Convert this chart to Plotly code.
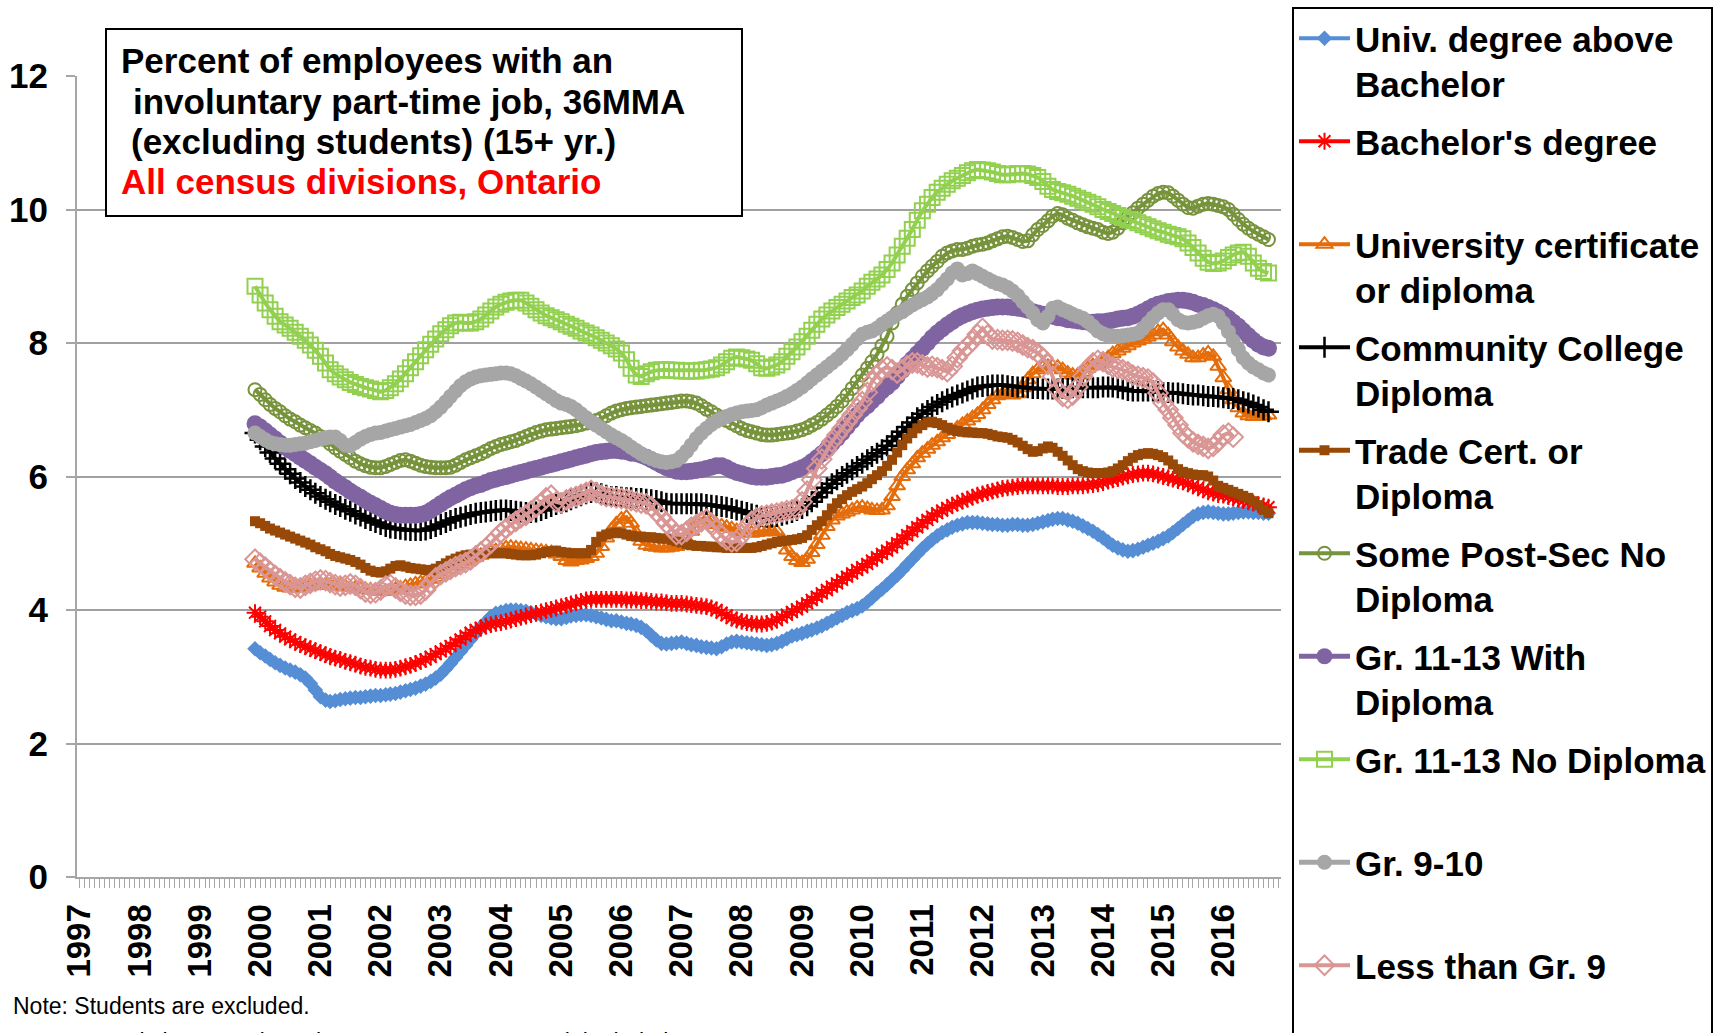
import pandas as pd
import plotly.graph_objects as go

# ---------------- data (36-month moving average, %) ----------------
start_month = "1999-12-01"

univ_above_bachelor = [3.42,
3.36,3.31,3.26,3.21,3.17,3.13,3.10,3.07,3.03,2.98,2.90,2.80,
2.70,2.65,2.63,2.64,2.66,2.67,2.68,2.69,2.69,2.70,2.71,2.72,
2.72,2.73,2.74,2.75,2.77,2.79,2.81,2.83,2.86,2.89,2.93,2.98,
3.04,3.12,3.20,3.29,3.38,3.47,3.56,3.65,3.74,3.82,3.90,3.95,
3.97,3.99,4.00,4.00,3.99,3.98,3.96,3.94,3.92,3.90,3.88,3.87,
3.87,3.89,3.91,3.92,3.93,3.93,3.92,3.90,3.88,3.86,3.84,3.84,
3.82,3.80,3.79,3.77,3.74,3.69,3.62,3.55,3.50,3.49,3.50,3.51,
3.52,3.50,3.48,3.47,3.45,3.44,3.43,3.42,3.45,3.49,3.52,3.53,
3.52,3.51,3.50,3.49,3.48,3.47,3.48,3.50,3.53,3.57,3.61,3.63,
3.65,3.68,3.70,3.73,3.76,3.80,3.84,3.88,3.92,3.96,3.99,4.02,
4.06,4.12,4.18,4.25,4.31,4.38,4.45,4.52,4.60,4.68,4.76,4.84,
4.92,4.99,5.05,5.11,5.16,5.20,5.24,5.27,5.29,5.31,5.31,5.31,
5.30,5.29,5.28,5.28,5.27,5.27,5.28,5.28,5.27,5.27,5.28,5.30,
5.32,5.34,5.36,5.37,5.37,5.35,5.33,5.30,5.26,5.22,5.18,5.13,
5.08,5.02,4.97,4.93,4.90,4.88,4.89,4.91,4.94,4.97,5.00,5.03,
5.07,5.11,5.16,5.22,5.28,5.34,5.40,5.44,5.46,5.47,5.46,5.45,
5.44,5.44,5.45,5.46,5.47,5.47,5.46,5.46,5.45,5.45]

bachelor = [3.96,
3.90,3.83,3.76,3.70,3.65,3.60,3.56,3.52,3.48,3.45,3.42,3.39,
3.36,3.33,3.30,3.28,3.26,3.23,3.21,3.19,3.16,3.14,3.13,3.11,
3.10,3.10,3.10,3.11,3.13,3.15,3.17,3.20,3.23,3.26,3.30,3.34,
3.38,3.42,3.46,3.51,3.56,3.61,3.66,3.70,3.73,3.76,3.78,3.80,
3.81,3.83,3.85,3.87,3.89,3.91,3.93,3.95,3.97,3.99,4.01,4.03,
4.05,4.07,4.09,4.11,4.13,4.15,4.16,4.16,4.16,4.16,4.16,4.16,
4.16,4.15,4.15,4.15,4.14,4.14,4.13,4.12,4.12,4.11,4.10,4.10,
4.10,4.09,4.08,4.07,4.06,4.05,4.03,4.00,3.96,3.92,3.88,3.85,
3.83,3.81,3.80,3.79,3.79,3.80,3.82,3.85,3.89,3.93,3.97,4.01,
4.05,4.10,4.15,4.20,4.25,4.30,4.35,4.40,4.45,4.50,4.55,4.60,
4.64,4.69,4.74,4.79,4.84,4.89,4.94,5.00,5.06,5.12,5.18,5.24,
5.30,5.35,5.40,5.45,5.49,5.53,5.57,5.60,5.63,5.66,5.69,5.72,
5.74,5.76,5.78,5.80,5.82,5.83,5.84,5.85,5.86,5.86,5.86,5.86,
5.86,5.86,5.86,5.85,5.85,5.85,5.86,5.86,5.86,5.87,5.88,5.89,
5.91,5.93,5.95,5.97,5.99,6.01,6.03,6.04,6.05,6.05,6.04,6.02,
6.00,5.98,5.96,5.94,5.92,5.89,5.86,5.83,5.80,5.77,5.75,5.73,
5.72,5.70,5.68,5.66,5.64,5.62,5.60,5.58,5.56,5.54]

univ_cert = [4.70,
4.63,4.55,4.48,4.42,4.37,4.34,4.33,4.33,4.34,4.35,4.36,4.37,
4.38,4.38,4.37,4.36,4.36,4.35,4.34,4.33,4.32,4.31,4.30,4.29,
4.28,4.28,4.29,4.31,4.33,4.35,4.37,4.39,4.41,4.43,4.46,4.49,
4.53,4.57,4.61,4.65,4.69,4.73,4.76,4.79,4.82,4.85,4.87,4.89,
4.91,4.93,4.94,4.93,4.92,4.91,4.90,4.89,4.88,4.87,4.86,4.84,
4.80,4.74,4.72,4.74,4.75,4.77,4.80,4.85,4.95,5.08,5.20,5.29,
5.36,5.39,5.30,5.15,5.03,4.97,4.95,4.94,4.93,4.93,4.94,4.95,
4.97,5.05,5.18,5.30,5.36,5.35,5.32,5.28,5.26,5.24,5.22,5.19,
5.17,5.16,5.15,5.16,5.17,5.18,5.19,5.17,5.05,4.90,4.80,4.74,
4.71,4.76,4.86,4.98,5.12,5.25,5.35,5.41,5.44,5.47,5.50,5.53,
5.54,5.52,5.50,5.49,5.50,5.56,5.70,5.86,6.00,6.10,6.19,6.28,
6.35,6.41,6.47,6.52,6.58,6.63,6.68,6.73,6.78,6.83,6.88,6.93,
7.00,7.08,7.15,7.21,7.23,7.23,7.22,7.24,7.33,7.45,7.54,7.60,
7.63,7.65,7.65,7.64,7.60,7.55,7.52,7.52,7.56,7.62,7.66,7.68,
7.72,7.78,7.84,7.88,7.92,7.96,8.00,8.03,8.06,8.09,8.12,8.17,
8.20,8.12,8.02,7.94,7.88,7.83,7.78,7.78,7.82,7.85,7.80,7.65,
7.48,7.30,7.15,7.03,6.95,6.91,6.90,6.90,6.91,6.92]

community_college = [6.65,
6.55,6.45,6.36,6.27,6.19,6.11,6.04,5.97,5.91,5.85,5.80,5.75,
5.70,5.66,5.62,5.58,5.55,5.51,5.48,5.44,5.41,5.37,5.34,5.31,
5.28,5.25,5.23,5.22,5.21,5.20,5.19,5.19,5.19,5.20,5.22,5.25,
5.28,5.31,5.34,5.37,5.39,5.41,5.43,5.45,5.46,5.47,5.48,5.49,
5.50,5.50,5.49,5.48,5.47,5.46,5.46,5.47,5.49,5.52,5.55,5.58,
5.60,5.62,5.65,5.68,5.71,5.74,5.76,5.76,5.74,5.72,5.70,5.70,
5.69,5.68,5.68,5.67,5.67,5.66,5.65,5.64,5.62,5.60,5.59,5.59,
5.59,5.59,5.59,5.59,5.59,5.58,5.57,5.56,5.55,5.54,5.52,5.50,
5.48,5.46,5.44,5.42,5.40,5.39,5.39,5.40,5.42,5.44,5.46,5.49,
5.52,5.56,5.62,5.69,5.76,5.83,5.89,5.95,6.00,6.05,6.10,6.15,
6.20,6.25,6.30,6.35,6.40,6.46,6.53,6.60,6.67,6.74,6.81,6.88,
6.94,6.99,7.04,7.08,7.12,7.16,7.19,7.22,7.25,7.28,7.31,7.34,
7.35,7.36,7.37,7.37,7.37,7.36,7.35,7.34,7.34,7.33,7.32,7.32,
7.31,7.31,7.31,7.31,7.32,7.32,7.33,7.33,7.33,7.33,7.33,7.33,
7.34,7.34,7.34,7.33,7.31,7.29,7.28,7.28,7.28,7.28,7.28,7.27,
7.26,7.26,7.25,7.25,7.24,7.23,7.22,7.22,7.21,7.20,7.20,7.19,
7.18,7.17,7.17,7.15,7.12,7.10,7.07,7.04,7.00,6.97]

trade_cert = [5.33,
5.30,5.26,5.22,5.19,5.16,5.13,5.10,5.07,5.04,5.01,4.98,4.94,
4.91,4.88,4.84,4.81,4.79,4.77,4.75,4.72,4.68,4.63,4.59,4.57,
4.56,4.58,4.62,4.66,4.67,4.65,4.63,4.62,4.61,4.60,4.60,4.62,
4.66,4.70,4.74,4.77,4.80,4.82,4.83,4.84,4.84,4.85,4.85,4.85,
4.85,4.85,4.84,4.83,4.82,4.82,4.82,4.83,4.85,4.87,4.88,4.89,
4.87,4.86,4.85,4.85,4.85,4.85,4.90,5.02,5.10,5.13,5.15,5.16,
5.15,5.13,5.11,5.10,5.10,5.09,5.09,5.08,5.07,5.07,5.05,5.03,
5.01,4.99,4.97,4.96,4.96,4.95,4.95,4.94,4.94,4.93,4.93,4.93,
4.93,4.93,4.93,4.94,4.96,4.98,5.00,5.02,5.03,5.04,5.05,5.06,
5.08,5.12,5.20,5.27,5.33,5.42,5.52,5.60,5.66,5.72,5.77,5.81,
5.85,5.90,5.96,6.02,6.08,6.16,6.25,6.36,6.47,6.57,6.65,6.72,
6.77,6.81,6.82,6.80,6.77,6.73,6.70,6.68,6.67,6.66,6.66,6.65,
6.65,6.64,6.62,6.60,6.59,6.58,6.55,6.51,6.46,6.41,6.37,6.38,
6.42,6.45,6.43,6.37,6.31,6.24,6.17,6.11,6.08,6.06,6.05,6.05,
6.05,6.06,6.08,6.12,6.17,6.23,6.28,6.32,6.34,6.35,6.34,6.32,
6.29,6.24,6.18,6.11,6.07,6.05,6.03,6.02,6.02,6.00,5.94,5.86,
5.83,5.80,5.77,5.74,5.71,5.68,5.63,5.57,5.50,5.45]

some_post_sec = [7.30,
7.23,7.15,7.08,7.02,6.97,6.91,6.86,6.82,6.77,6.73,6.69,6.65,
6.60,6.55,6.49,6.43,6.38,6.33,6.28,6.23,6.19,6.16,6.14,6.13,
6.13,6.15,6.18,6.21,6.24,6.25,6.23,6.20,6.17,6.15,6.14,6.13,
6.13,6.13,6.14,6.17,6.21,6.25,6.28,6.31,6.34,6.38,6.42,6.45,
6.48,6.50,6.52,6.54,6.57,6.60,6.63,6.66,6.68,6.70,6.71,6.72,
6.73,6.74,6.75,6.76,6.78,6.80,6.82,6.84,6.87,6.91,6.95,6.98,
7.00,7.02,7.03,7.04,7.05,7.06,7.07,7.08,7.09,7.10,7.11,7.12,
7.13,7.13,7.12,7.10,7.06,7.01,6.97,6.92,6.88,6.84,6.80,6.76,
6.72,6.69,6.67,6.65,6.63,6.62,6.62,6.63,6.64,6.65,6.66,6.68,
6.70,6.73,6.77,6.81,6.86,6.92,6.98,7.05,7.13,7.22,7.32,7.42,
7.52,7.62,7.72,7.83,7.96,8.10,8.30,8.45,8.58,8.70,8.80,8.90,
9.00,9.08,9.15,9.22,9.30,9.35,9.38,9.40,9.40,9.42,9.45,9.47,
9.48,9.50,9.53,9.56,9.59,9.60,9.58,9.55,9.52,9.53,9.62,9.70,
9.76,9.83,9.90,9.94,9.92,9.87,9.84,9.80,9.77,9.74,9.72,9.70,
9.66,9.64,9.66,9.72,9.80,9.88,9.95,10.02,10.08,10.14,10.20,10.24,
10.26,10.25,10.20,10.14,10.08,10.03,10.02,10.05,10.08,10.09,10.08,10.06,
10.04,10.00,9.93,9.85,9.78,9.72,9.67,9.63,9.59,9.55]

gr11_13_with_diploma = [6.79,
6.74,6.68,6.62,6.56,6.50,6.44,6.39,6.34,6.29,6.24,6.19,6.14,
6.09,6.04,5.99,5.93,5.88,5.83,5.78,5.73,5.69,5.64,5.60,5.56,
5.52,5.48,5.45,5.43,5.42,5.42,5.42,5.42,5.43,5.45,5.49,5.54,
5.59,5.64,5.68,5.72,5.76,5.80,5.83,5.86,5.88,5.91,5.94,5.96,
5.98,6.00,6.02,6.04,6.06,6.08,6.10,6.12,6.14,6.16,6.18,6.20,
6.22,6.24,6.26,6.28,6.30,6.32,6.34,6.36,6.37,6.38,6.39,6.39,
6.38,6.37,6.35,6.34,6.32,6.29,6.25,6.21,6.17,6.13,6.10,6.08,
6.07,6.07,6.08,6.09,6.10,6.12,6.14,6.16,6.16,6.13,6.09,6.06,
6.04,6.02,6.00,5.99,5.99,5.99,6.00,6.01,6.02,6.04,6.07,6.10,
6.13,6.17,6.22,6.28,6.34,6.41,6.49,6.57,6.65,6.74,6.83,6.92,
7.00,7.06,7.13,7.20,7.28,7.34,7.41,7.50,7.59,7.68,7.76,7.84,
7.92,8.00,8.08,8.15,8.21,8.27,8.32,8.37,8.41,8.44,8.47,8.49,
8.51,8.52,8.53,8.54,8.54,8.54,8.53,8.52,8.51,8.49,8.47,8.45,
8.43,8.41,8.40,8.38,8.37,8.35,8.34,8.33,8.32,8.31,8.31,8.32,
8.32,8.33,8.34,8.36,8.37,8.38,8.40,8.43,8.47,8.51,8.55,8.58,
8.60,8.62,8.63,8.64,8.64,8.63,8.61,8.58,8.56,8.53,8.50,8.46,
8.42,8.37,8.31,8.25,8.18,8.11,8.04,7.98,7.94,7.92]

gr11_13_no_diploma = [8.85,
8.72,8.60,8.50,8.40,8.32,8.27,8.22,8.16,8.10,8.04,7.97,7.89,
7.80,7.70,7.60,7.54,7.49,7.45,7.41,7.38,7.35,7.33,7.31,7.29,
7.27,7.29,7.33,7.39,7.46,7.54,7.63,7.72,7.81,7.90,7.98,8.06,
8.14,8.20,8.26,8.30,8.31,8.30,8.30,8.32,8.36,8.42,8.48,8.54,
8.58,8.61,8.63,8.64,8.64,8.60,8.55,8.50,8.45,8.41,8.38,8.35,
8.32,8.28,8.25,8.22,8.18,8.15,8.12,8.08,8.04,8.00,7.96,7.91,
7.85,7.75,7.62,7.52,7.50,7.54,7.57,7.59,7.60,7.60,7.59,7.59,
7.58,7.58,7.58,7.58,7.59,7.60,7.61,7.63,7.67,7.72,7.77,7.79,
7.78,7.76,7.74,7.69,7.63,7.62,7.64,7.67,7.72,7.80,7.87,7.94,
8.02,8.10,8.19,8.28,8.36,8.42,8.48,8.53,8.58,8.63,8.68,8.72,
8.78,8.85,8.91,8.96,9.02,9.10,9.20,9.32,9.45,9.57,9.70,9.84,
9.98,10.08,10.18,10.26,10.32,10.38,10.43,10.47,10.51,10.55,10.58,10.60,
10.59,10.58,10.56,10.54,10.52,10.52,10.53,10.54,10.54,10.53,10.51,10.48,
10.42,10.35,10.30,10.27,10.25,10.23,10.20,10.17,10.14,10.11,10.08,10.04,
10.00,9.97,9.94,9.91,9.88,9.85,9.83,9.80,9.77,9.74,9.71,9.68,
9.66,9.63,9.61,9.59,9.56,9.50,9.43,9.35,9.27,9.21,9.19,9.20,
9.23,9.28,9.32,9.35,9.36,9.30,9.20,9.12,9.07,9.05]

gr9_10 = [6.65,
6.60,6.55,6.51,6.49,6.48,6.47,6.47,6.48,6.49,6.50,6.52,6.54,
6.56,6.58,6.59,6.59,6.54,6.47,6.46,6.51,6.56,6.60,6.63,6.65,
6.66,6.68,6.70,6.72,6.74,6.76,6.78,6.81,6.84,6.87,6.91,6.97,
7.04,7.12,7.20,7.28,7.36,7.42,7.46,7.49,7.51,7.52,7.53,7.54,
7.55,7.55,7.54,7.51,7.47,7.43,7.39,7.34,7.29,7.24,7.19,7.14,
7.10,7.08,7.05,7.00,6.94,6.88,6.82,6.77,6.72,6.67,6.62,6.58,
6.54,6.49,6.44,6.39,6.34,6.30,6.27,6.24,6.22,6.21,6.22,6.24,
6.30,6.38,6.47,6.57,6.65,6.72,6.78,6.83,6.87,6.90,6.93,6.95,
6.97,6.98,6.99,7.00,7.03,7.07,7.10,7.13,7.16,7.20,7.24,7.29,
7.34,7.40,7.46,7.52,7.58,7.64,7.70,7.76,7.83,7.90,7.98,8.06,
8.13,8.16,8.18,8.22,8.28,8.33,8.38,8.43,8.47,8.52,8.57,8.61,
8.65,8.69,8.74,8.80,8.88,8.96,9.05,9.11,9.02,9.04,9.08,9.04,
9.00,8.96,8.92,8.89,8.87,8.83,8.78,8.71,8.62,8.54,8.45,8.35,
8.30,8.40,8.52,8.54,8.50,8.47,8.43,8.40,8.37,8.32,8.25,8.18,
8.14,8.11,8.10,8.10,8.11,8.12,8.13,8.15,8.22,8.30,8.38,8.45,
8.50,8.50,8.43,8.35,8.31,8.30,8.31,8.33,8.37,8.41,8.43,8.40,
8.30,8.17,8.03,7.90,7.78,7.70,7.64,7.60,7.55,7.52]

less_than_gr9 = [4.76,
4.70,4.64,4.58,4.52,4.47,4.42,4.38,4.34,4.33,4.37,4.40,4.43,
4.45,4.44,4.41,4.38,4.36,4.37,4.39,4.37,4.32,4.27,4.25,4.26,
4.30,4.36,4.38,4.33,4.28,4.24,4.22,4.22,4.24,4.30,4.40,4.48,
4.53,4.57,4.61,4.65,4.68,4.71,4.75,4.81,4.87,4.93,5.00,5.08,
5.16,5.22,5.28,5.33,5.38,5.42,5.48,5.54,5.60,5.68,5.72,5.62,
5.60,5.65,5.68,5.70,5.73,5.76,5.79,5.76,5.72,5.70,5.69,5.68,
5.67,5.66,5.64,5.62,5.60,5.59,5.55,5.47,5.39,5.30,5.22,5.13,
5.13,5.18,5.24,5.28,5.32,5.36,5.30,5.20,5.11,5.05,5.02,5.03,
5.12,5.25,5.33,5.38,5.41,5.42,5.44,5.45,5.47,5.49,5.50,5.51,
5.62,5.78,5.95,6.12,6.26,6.40,6.52,6.62,6.72,6.82,6.92,7.02,
7.12,7.26,7.42,7.52,7.60,7.64,7.60,7.55,7.60,7.66,7.70,7.70,
7.67,7.64,7.65,7.63,7.60,7.57,7.65,7.78,7.88,7.95,8.03,8.13,
8.22,8.12,8.06,8.05,8.04,8.04,8.03,8.01,7.97,7.93,7.90,7.85,
7.78,7.68,7.50,7.30,7.20,7.17,7.22,7.34,7.50,7.62,7.70,7.74,
7.72,7.68,7.64,7.62,7.60,7.57,7.52,7.50,7.48,7.46,7.40,7.25,
7.10,7.00,6.88,6.77,6.65,6.58,6.52,6.48,6.45,6.42,6.45,6.52,
6.62,6.65,6.59]

series_names = [
    "Univ. degree above<br>Bachelor",
    "Bachelor's degree<br> ",
    "University certificate<br>or diploma",
    "Community College<br>Diploma",
    "Trade Cert. or<br>Diploma",
    "Some Post-Sec No<br>Diploma",
    "Gr. 11-13 With<br>Diploma",
    "Gr. 11-13 No Diploma<br> ",
    "Gr. 9-10<br> ",
    "Less than Gr. 9<br> ",
]
series_values = [univ_above_bachelor, bachelor, univ_cert, community_college, trade_cert,
                 some_post_sec, gr11_13_with_diploma, gr11_13_no_diploma, gr9_10, less_than_gr9]

y_ticks = [0, 2, 4, 6, 8, 10, 12]
title_lines = ["Percent of employees with an",
               "involuntary part-time job, 36MMA",
               "(excluding students) (15+ yr.)",
               "All census divisions, Ontario"]
note_text = "Note: Students are excluded."
source_text = "Source: Statistics Canada, Labour Force Survey, special tabulation."

# ---------------- styles ----------------
styles = [
    dict(color="#558ED5", lw=4, symbol="diamond", size=12, mlw=0),
    dict(color="#FF0000", lw=4, symbol="asterisk-open", size=14, mlw=2),
    dict(color="#E46C0A", lw=4, symbol="triangle-up-open", size=14, mlw=2),
    dict(color="#000000", lw=4, symbol="cross-thin-open", size=15, mlw=2.5),
    dict(color="#984807", lw=5, symbol="square", size=10, mlw=0),
    dict(color="#77933C", lw=4, symbol="circle-open", size=13, mlw=2),
    dict(color="#8064A2", lw=5, symbol="circle", size=17, mlw=0),
    dict(color="#92D050", lw=4, symbol="square-open", size=15, mlw=2),
    dict(color="#A6A6A6", lw=5, symbol="circle", size=15, mlw=0),
    dict(color="#D99694", lw=4, symbol="diamond-open", size=15, mlw=2),
]

months = pd.date_range(start_month, periods=max(len(v) for v in series_values), freq="MS")

FONT = "Liberation Sans, Arial, sans-serif"
fig = go.Figure()
for i, (name, vals, st) in enumerate(zip(series_names, series_values, styles)):
    fig.add_trace(go.Scatter(
        x=months[:len(vals)], y=vals, name=name, mode="lines+markers",
        legendgroup=f"g{i}",
        line=dict(color=st["color"], width=st["lw"]),
        marker=dict(symbol=st["symbol"], size=st["size"], color=st["color"],
                    line=dict(color=st["color"], width=st["mlw"])),
    ))

# pixel geometry helpers (figure 1729 x 1033)
W, H = 1729, 1033
L, R, T, B = 77, 1281, 76, 877
def px(xp):
    return (xp - L) / (R - L)
def py(yp):
    return (B - yp) / (B - T)

fig.update_layout(
    width=W, height=H,
    margin=dict(l=L, r=W - R, t=T, b=H - B, pad=0, autoexpand=False),
    plot_bgcolor="white", paper_bgcolor="white",
    font=dict(family=FONT, color="black"),
    showlegend=True,
    legend=dict(
        x=px(1292), xanchor="left",
        yref="container", y=1 - 7 / H, yanchor="top",
        maxheight=1300,
        bgcolor="white", bordercolor="black", borderwidth=2,
        font=dict(family=FONT, size=35, weight="bold", color="black"),
        traceorder="grouped", tracegroupgap=9, valign="top",
        itemwidth=51,
    ),
    xaxis=dict(
        type="date", range=["1996-12-16", "2016-12-16"],
        showgrid=False, zeroline=False,
        showline=True, linecolor="#A6A6A6", linewidth=2,
        ticks="outside", ticklen=9, tickwidth=1, tickcolor="#A6A6A6",
        dtick="M12", tick0="1997-01-01", tickformat="%Y", tickangle=-90,
        tickfont=dict(family=FONT, size=33, weight="bold", color="black"),
        ticklabelstandoff=3,
        minor=dict(dtick="M1", ticks="outside", ticklen=9, tickwidth=1,
                   tickcolor="#A6A6A6", showgrid=False),
    ),
    yaxis=dict(
        range=[0, 12], tickvals=y_ticks, ticktext=[str(v) for v in y_ticks],
        showgrid=True, gridcolor="#A0A0A0", gridwidth=2,
        zeroline=False, showline=True, linecolor="#A6A6A6", linewidth=2,
        ticks="outside", ticklen=9, tickcolor="#A6A6A6", tickwidth=2,
        tickfont=dict(family=FONT, size=35, weight="bold", color="black"),
        ticklabelstandoff=11,
    ),
)

# title box
fig.add_shape(type="rect", xref="paper", yref="paper",
              x0=px(106), x1=px(742), y0=py(216), y1=py(29),
              line=dict(color="black", width=2), fillcolor="white", layer="above")
title_x = [118.5, 130.5, 128.5, 118.5]
title_y = [60.5, 101.5, 141.5, 181.5]
title_col = ["black", "black", "black", "#FF0000"]
for t, xx, yy, c in zip(title_lines, title_x, title_y, title_col):
    fig.add_annotation(text=t, xref="paper", yref="paper", x=px(xx), y=py(yy),
                       xanchor="left", yanchor="middle", showarrow=False,
                       font=dict(family=FONT, size=35, weight="bold", color=c))

# notes
fig.add_annotation(text=note_text, xref="paper", yref="paper", x=px(10.5), y=py(1006),
                   xanchor="left", yanchor="middle", showarrow=False,
                   font=dict(family=FONT, size=23, color="black"))
fig.add_annotation(text=source_text, xref="paper", yref="paper", x=px(10.5), y=py(1042),
                   xanchor="left", yanchor="middle", showarrow=False,
                   font=dict(family=FONT, size=23, color="black"))

fig.write_html("out.html", config={"displayModeBar": False},
               post_script="document.body.style.margin='0';")
